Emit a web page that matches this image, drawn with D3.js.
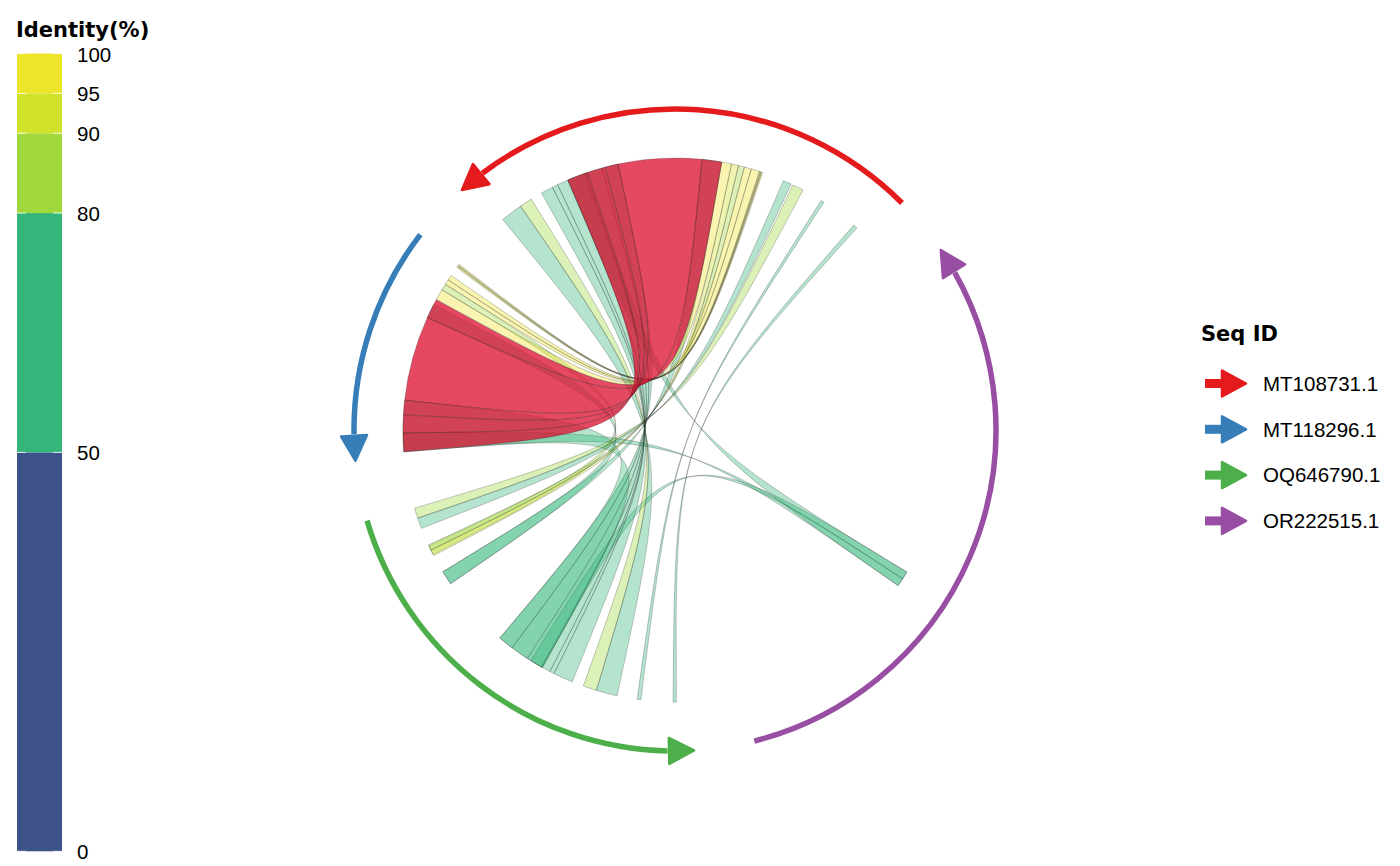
<!DOCTYPE html>
<html>
<head>
<meta charset="utf-8">
<script src="https://cdn.jsdelivr.net/npm/d3@7"></script>
<style>
  body { margin: 0; background: #fff; }
  svg { display: block; font-family: "Liberation Sans", Arial, sans-serif; }
</style>
</head>
<body>
<div id="chart"></div>
<script>
// sequences (length in kb) and their colours
var seqIds = ["MT108731.1", "MT118296.1", "OQ646790.1", "OR222515.1"];
var seqLen = [43.3, 21.5, 38.5, 54.9];
var seqColors = ["#E41A1C", "#377EB8", "#4DAF4A", "#984EA3"];

// identity bins of the legend
var idBreaks = [0, 50, 80, 90, 95, 100];
var idColors = ["#3E528A", "#34B57A", "#A1D93D", "#D1E22A", "#EEE42A"];

// alignments: seq A, start, end, seq B, start, end (kb), identity (%), highlighted
var links = [
  ["MT108731.1", 13.10, 13.22, "MT118296.1", 0.00, 0.13, 97.1, 0],
  ["MT108731.1", 13.22, 13.34, "MT118296.1", 0.13, 0.27, 93.4, 0],
  ["MT108731.1", 13.34, 13.45, "MT118296.1", 0.27, 0.40, 96.2, 0],
  ["MT108731.1", 13.45, 14.35, "MT118296.1", 1.45, 2.00, 97.5, 0],
  ["MT108731.1", 14.35, 15.10, "MT118296.1", 2.00, 2.55, 96.4, 0],
  ["MT108731.1", 16.50, 17.55, "MT118296.1", 3.25, 4.40, 98.3, 0],
  ["MT108731.1", 15.10, 15.75, "OQ646790.1", 4.30, 4.90, 87.2, 0],
  ["MT108731.1", 15.75, 16.50, "OQ646790.1", 4.90, 5.55, 92.6, 0],
  ["MT118296.1", 2.55, 3.25, "OQ646790.1", 4.40, 5.40, 86.1, 0],
  ["MT108731.1", 8.45, 9.65, "OQ646790.1", 0.15, 1.25, 84.7, 0],
  ["MT108731.1", 9.85, 10.75, "OQ646790.1", 1.25, 2.40, 71.8, 0],
  ["MT108731.1", 17.55, 19.65, "OQ646790.1", 7.50, 9.00, 68.3, 0],
  ["MT118296.1", 5.00, 6.55, "OQ646790.1", 7.50, 9.00, 66.9, 0],
  ["MT108731.1", 28.55, 30.30, "OQ646790.1", 16.75, 18.40, 74.2, 0],
  ["MT108731.1", 30.30, 32.20, "OQ646790.1", 18.40, 20.35, 70.5, 0],
  ["MT108731.1", 32.20, 34.10, "OQ646790.1", 20.35, 22.20, 66.1, 0],
  ["MT118296.1", 15.60, 21.05, "OQ646790.1", 16.75, 22.20, 72.4, 0],
  ["MT108731.1", 34.10, 35.30, "OQ646790.1", 22.05, 23.10, 71.0, 0],
  ["MT108731.1", 35.30, 35.90, "OQ646790.1", 23.10, 23.60, 64.3, 0],
  ["MT108731.1", 35.90, 37.20, "OQ646790.1", 23.60, 25.70, 77.4, 0],
  ["MT108731.1", 38.45, 39.80, "OQ646790.1", 26.95, 28.40, 84.1, 0],
  ["MT108731.1", 39.80, 42.15, "OQ646790.1", 28.40, 30.65, 69.2, 0],
  ["MT108731.1", 5.90, 6.25, "OQ646790.1", 32.80, 33.20, 61.5, 0],
  ["MT108731.1", 1.50, 1.95, "OQ646790.1", 36.60, 36.95, 58.3, 0],
  ["MT108731.1", 32.00, 34.10, "OR222515.1", 20.40, 22.10, 65.4, 0],
  ["MT118296.1", 19.05, 21.05, "OR222515.1", 20.40, 21.30, 63.2, 0],
  ["OQ646790.1", 20.80, 22.20, "OR222515.1", 21.25, 22.10, 70.3, 0],
  ["MT108731.1", 17.55, 19.65, "MT118296.1", 4.45, 6.55, 99.2, 1],
  ["MT108731.1", 19.65, 28.55, "MT118296.1", 6.55, 15.60, 99.6, 1],
  ["MT108731.1", 28.55, 29.95, "MT118296.1", 15.60, 17.15, 98.9, 1],
  ["MT108731.1", 29.95, 31.90, "MT118296.1", 17.15, 19.05, 99.1, 1],
  ["MT108731.1", 31.90, 34.10, "MT118296.1", 19.05, 21.05, 98.7, 1]
];

var width = 1400, height = 866;
var cx = 675, cy = 430, rArc = 321, rLink = 272;
var gapDeg = 10.9, startDeg = 45;
var halfPi = Math.PI / 2;

var svg = d3.select("#chart")
  .append("svg")
    .attr("width", width)
    .attr("height", height);

// angle scale (radians, clockwise from 12 o'clock) for each sequence
var total = d3.sum(seqLen);
var degPerKb = (360 - gapDeg * seqIds.length) / total;
var angle = {};
var cursor = startDeg;
seqIds.forEach(function(id, i) {
  var a0 = cursor, a1 = cursor - seqLen[i] * degPerKb;
  angle[id] = d3.scaleLinear()
      .domain([0, seqLen[i]])
      .range([a0 * Math.PI / 180, a1 * Math.PI / 180]);
  cursor = a1 - gapDeg;
});

function pt(r, a) { return [r * Math.sin(a), -r * Math.cos(a)]; }

var idColor = d3.scaleThreshold()
    .domain(idBreaks.slice(1, -1))
    .range(idColors);

var g = svg.append("g")
    .attr("transform", "translate(" + cx + "," + cy + ")");

// links: start joins start, end joins end, curves pulled through the centre
function linkPath(d) {
  var a0 = angle[d[0]](d[1]), a1 = angle[d[0]](d[2]);
  var b0 = angle[d[3]](d[4]), b1 = angle[d[3]](d[5]);
  var p = d3.path();
  var s = pt(rLink, a0);
  p.moveTo(s[0], s[1]);
  p.arc(0, 0, rLink, a0 - halfPi, a1 - halfPi, a1 < a0);
  var t = pt(rLink, b1);
  p.bezierCurveTo(0, 0, 0, 0, t[0], t[1]);
  p.arc(0, 0, rLink, b1 - halfPi, b0 - halfPi, b0 < b1);
  p.bezierCurveTo(0, 0, 0, 0, s[0], s[1]);
  p.closePath();
  return p.toString();
}

var ordered = links.filter(function(d) { return !d[7]; })
    .sort(function(a, b) { return a[6] - b[6]; })
    .concat(links.filter(function(d) { return d[7]; }));

g.selectAll(".link")
  .data(ordered)
  .enter().append("path")
    .attr("class", "link")
    .attr("d", linkPath)
    .attr("fill", function(d) { return d[7] ? "#DC0C2D" : idColor(d[6]); })
    .attr("fill-opacity", function(d) { return d[7] ? 0.75 : 0.37; })
    .attr("stroke", "#222")
    .attr("stroke-opacity", 0.55)
    .attr("stroke-width", 0.45);

// sequence arcs with arrow heads
var headLen = 25, headHalf = 13;
seqIds.forEach(function(id, i) {
  var sc = angle[id];
  var a0 = sc(0), aEnd = sc(seqLen[i]);
  var aBase = aEnd + headLen / rArc;
  var p = d3.path();
  var s = pt(rArc, a0);
  p.moveTo(s[0], s[1]);
  p.arc(0, 0, rArc, a0 - halfPi, aBase + 1.5 / rArc - halfPi, true);
  g.append("path")
      .attr("d", p.toString())
      .attr("fill", "none")
      .attr("stroke", seqColors[i])
      .attr("stroke-width", 5.5);

  var tip = pt(rArc, aEnd), base = pt(rArc, aBase);
  var dx = tip[0] - base[0], dy = tip[1] - base[1];
  var len = Math.sqrt(dx * dx + dy * dy);
  var nx = -dy / len * headHalf, ny = dx / len * headHalf;
  g.append("path")
      .attr("d", "M" + tip + "L" + [base[0] + nx, base[1] + ny] + "L" + [base[0] - nx, base[1] - ny] + "Z")
      .attr("fill", seqColors[i])
      .attr("stroke", seqColors[i])
      .attr("stroke-width", 2.5)
      .attr("stroke-linejoin", "round");
});

// identity colour bar
var yBar = d3.scaleLinear().domain([0, 100]).range([851.3, 53.5]);
var barX = 17, barW = 45;
var leg1 = svg.append("g");
leg1.selectAll("rect")
  .data(idColors)
  .enter().append("rect")
    .attr("x", barX)
    .attr("y", function(d, i) { return yBar(idBreaks[i + 1]); })
    .attr("width", barW)
    .attr("height", function(d, i) { return yBar(idBreaks[i]) - yBar(idBreaks[i + 1]); })
    .attr("fill", function(d) { return d; });

idBreaks.forEach(function(v) {
  var y = yBar(v);
  leg1.append("line").attr("x1", barX).attr("x2", barX + 9).attr("y1", y).attr("y2", y)
      .attr("stroke", "#fff").attr("stroke-opacity", 0.8).attr("stroke-width", 1);
  leg1.append("line").attr("x1", barX + barW - 9).attr("x2", barX + barW).attr("y1", y).attr("y2", y)
      .attr("stroke", "#fff").attr("stroke-opacity", 0.8).attr("stroke-width", 1);
});

var axis = leg1.append("g")
    .attr("transform", "translate(" + (barX + barW) + ",1)")
    .call(d3.axisRight(yBar).tickValues(idBreaks).tickSize(0).tickPadding(15));
axis.select(".domain").remove();
axis.selectAll("text")
    .style("font-size", "20.5px")
    .style("font-family", "'Liberation Sans', Arial, sans-serif")
    .attr("fill", "#000");

leg1.append("text")
    .attr("x", 16)
    .attr("y", 37)
    .style("font-family", "'DejaVu Sans', sans-serif")
    .style("font-weight", "bold")
    .style("font-size", "21px")
    .text("Identity(%)");

// sequence legend
var leg2 = svg.append("g");
leg2.append("text")
    .attr("x", 1201)
    .attr("y", 341)
    .style("font-family", "'DejaVu Sans', sans-serif")
    .style("font-weight", "bold")
    .style("font-size", "21px")
    .text("Seq ID");

seqIds.forEach(function(id, i) {
  var y = 383.5 + i * 45.8;
  leg2.append("line")
      .attr("x1", 1205).attr("x2", 1226).attr("y1", y).attr("y2", y)
      .attr("stroke", seqColors[i]).attr("stroke-width", 9);
  leg2.append("path")
      .attr("d", "M1246," + y + "L1222," + (y - 13) + "L1222," + (y + 13) + "Z")
      .attr("fill", seqColors[i])
      .attr("stroke", seqColors[i])
      .attr("stroke-width", 2.5)
      .attr("stroke-linejoin", "round");
  leg2.append("text")
      .attr("x", 1263)
      .attr("y", y)
      .attr("dy", "0.36em")
      .style("font-size", "20.5px")
      .text(id);
});
</script>
</body>
</html>
